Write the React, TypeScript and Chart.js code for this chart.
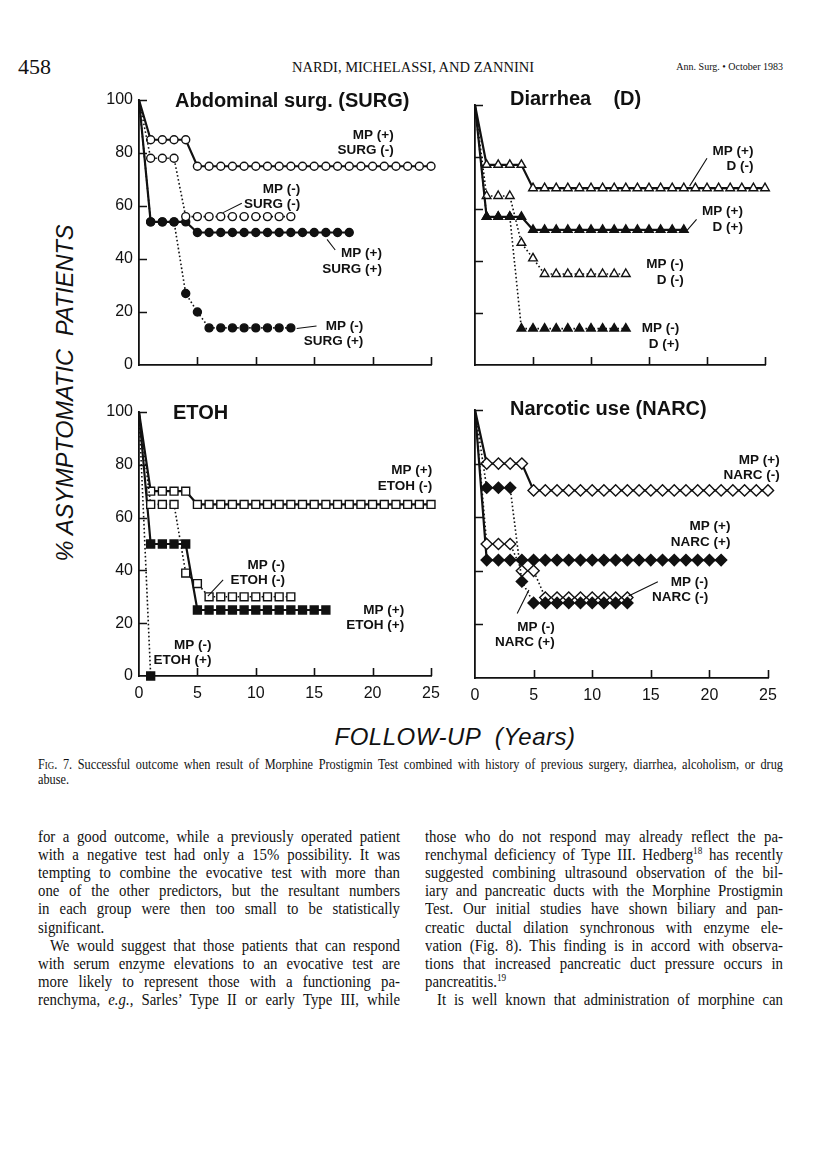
import React, { useEffect, useRef } from "react";
import { Chart, registerables } from "chart.js";

Chart.register(...registerables);

// ---------------- data ----------------
const years = [0, 1, 2, 3, 4, 5, 6, 7, 8, 9, 10, 11, 12, 13, 14, 15, 16, 17, 18, 19, 20, 21, 22, 23, 24, 25];
const xTicks = [0, 5, 10, 15, 20, 25];
const yTicks = [0, 20, 40, 60, 80, 100];

// Abdominal surgery (SURG)
const surgMpPosSurgNeg = [100, 85, 85, 85, 85, 75, 75, 75, 75, 75, 75, 75, 75, 75, 75, 75, 75, 75, 75, 75, 75, 75, 75, 75, 75, 75];
const surgMpNegSurgNeg = [100, 78, 78, 78, 56, 56, 56, 56, 56, 56, 56, 56, 56, 56];
const surgMpPosSurgPos = [100, 54, 54, 54, 54, 50, 50, 50, 50, 50, 50, 50, 50, 50, 50, 50, 50, 50, 50];
const surgMpNegSurgPos = [100, 54, 54, 54, 27, 20, 14, 14, 14, 14, 14, 14, 14, 14];

// Diarrhea (D)
const diarMpPosDNeg = [100, 77, 77, 77, 77, 68, 68, 68, 68, 68, 68, 68, 68, 68, 68, 68, 68, 68, 68, 68, 68, 68, 68, 68, 68, 68];
const diarMpNegDNeg = [100, 65, 65, 65, 47, 41, 35, 35, 35, 35, 35, 35, 35, 35];
const diarMpPosDPos = [100, 57, 57, 57, 57, 52, 52, 52, 52, 52, 52, 52, 52, 52, 52, 52, 52, 52, 52];
const diarMpNegDPos = [100, 57, 57, 57, 14, 14, 14, 14, 14, 14, 14, 14, 14, 14];

// ETOH
const etohMpPosENeg = [100, 70, 70, 70, 70, 65, 65, 65, 65, 65, 65, 65, 65, 65, 65, 65, 65, 65, 65, 65, 65, 65, 65, 65, 65, 65];
const etohMpNegENeg = [100, 65, 65, 65, 39, 35, 30, 30, 30, 30, 30, 30, 30, 30];
const etohMpPosEPos = [100, 50, 50, 50, 50, 25, 25, 25, 25, 25, 25, 25, 25, 25, 25, 25, 25];
const etohMpNegEPos = [100, 0];

// Narcotic use (NARC)
const narcMpPosNNeg = [100, 80, 80, 80, 80, 70, 70, 70, 70, 70, 70, 70, 70, 70, 70, 70, 70, 70, 70, 70, 70, 70, 70, 70, 70, 70];
const narcMpNegNNeg = [100, 50, 50, 50, 40, 40, 30, 30, 30, 30, 30, 30, 30, 30];
const narcMpPosNPos = [100, 44, 44, 44, 44, 44, 44, 44, 44, 44, 44, 44, 44, 44, 44, 44, 44, 44, 44, 44, 44, 44];
const narcMpNegNPos = [100, 71, 71, 71, 36, 28, 28, 28, 28, 28, 28, 28, 28, 28];

// curve labels (data coordinates: right edge x, first line y)
const surgNotes = [
  { x: 21.8, y: 86.8, text: ["MP (+)", "SURG (-)"] },
  { x: 13.8, y: 66.4, text: ["MP (-)", "SURG (-)"] },
  { x: 20.8, y: 42.1, text: ["MP (+)", "SURG (+)"] },
  { x: 19.2, y: 14.7, text: ["MP (-)", "SURG (+)"] },
];
const surgLeaders = [
  [8.8, 61.0, 7.2, 57.5],
  [16.1, 47.4, 16.8, 43.4],
  [13.5, 13.8, 15.2, 14.7],
];
const diarNotes = [
  { x: 24.0, y: 82.3, text: ["MP (+)", "D (-)"] },
  { x: 23.1, y: 59.0, text: ["MP (+)", "D (+)"] },
  { x: 18.0, y: 38.7, text: ["MP (-)", "D (-)"] },
  { x: 17.6, y: 14.1, text: ["MP (-)", "D (+)"] },
];
const diarLeaders = [
  [20.0, 79.5, 18.5, 68.8],
  [19.1, 56.0, 18.3, 51.9],
];
const etohNotes = [
  { x: 25.1, y: 77.8, text: ["MP (+)", "ETOH (-)"] },
  { x: 12.5, y: 42.0, text: ["MP (-)", "ETOH (-)"] },
  { x: 22.7, y: 25.0, text: ["MP (+)", "ETOH (+)"] },
  { x: 6.2, y: 11.7, text: ["MP (-)", "ETOH (+)"] },
];
const etohLeaders = [[7.2, 36.4, 5.9, 30.3]];
const narcNotes = [
  { x: 26.0, y: 81.3, text: ["MP (+)", "NARC (-)"] },
  { x: 21.8, y: 56.5, text: ["MP (+)", "NARC (+)"] },
  { x: 19.9, y: 35.9, text: ["MP (-)", "NARC (-)"] },
  { x: 6.8, y: 19.1, text: ["MP (-)", "NARC (+)"] },
];
const narcLeaders = [
  [15.6, 35.9, 13.1, 30.6],
  [3.6, 24.1, 4.6, 32.8],
];

// ---------------- styles ----------------
const INK = "#111111";
const PAD_L = 45;
const PAD_T = 20;
const PAD_R = 34;
const PAD_B = 32;

function radiusFor(shape: string) {
  if (shape === "circle") return 4;
  if (shape === "triangle") return 5;
  return 5.6;
}

function makeDataset(values: number[], shape: string, filled: boolean, dotted: boolean) {
  return {
    data: values.map((v, i) => ({ x: years[i], y: v })),
    borderColor: INK,
    borderWidth: dotted ? 1.6 : 2.2,
    borderDash: dotted ? [1.6, 2.4] : [],
    pointStyle: shape,
    pointRadius: (c: any) => (c.dataIndex === 0 ? 0 : radiusFor(shape)),
    pointBackgroundColor: filled ? INK : "#ffffff",
    pointBorderColor: INK,
    pointBorderWidth: 1.4,
    tension: 0,
    fill: false,
    clip: false as any,
  };
}

const decorPlugin = {
  id: "decor",
  afterDatasetsDraw(chart: any, _args: any, opts: any) {
    const { ctx, chartArea } = chart;
    const x = chart.scales.x;
    const y = chart.scales.y;
    ctx.save();
    ctx.strokeStyle = INK;
    ctx.lineWidth = 1.6;
    ctx.setLineDash([]);
    ctx.beginPath();
    for (const v of xTicks) {
      if (v === 0) continue;
      const px = Math.round(x.getPixelForValue(v)) + 0.5;
      ctx.moveTo(px, chartArea.bottom);
      ctx.lineTo(px, chartArea.bottom - 8);
    }
    for (const v of yTicks) {
      if (v === 0) continue;
      const py = Math.round(y.getPixelForValue(v)) + 0.5;
      ctx.moveTo(chartArea.left, py);
      ctx.lineTo(chartArea.left + 8, py);
    }
    ctx.stroke();
    ctx.lineWidth = 1.1;
    ctx.beginPath();
    for (const [a, b, c, d] of opts.leaders || []) {
      ctx.moveTo(x.getPixelForValue(a), y.getPixelForValue(b));
      ctx.lineTo(x.getPixelForValue(c), y.getPixelForValue(d));
    }
    ctx.stroke();
    ctx.fillStyle = INK;
    ctx.font = "bold 13.5px 'Liberation Sans', Arial, sans-serif";
    ctx.textAlign = "right";
    ctx.textBaseline = "middle";
    for (const n of opts.notes || []) {
      const px = x.getPixelForValue(n.x);
      const py = y.getPixelForValue(n.y);
      n.text.forEach((s: string, i: number) => ctx.fillText(s, px, py + i * 15.5));
    }
    ctx.restore();
  },
};

type Area = { l: number; r: number; t: number; b: number };

function Panel(props: { area: Area; datasets: any[]; notes: any[]; leaders: number[][]; showX: boolean; showY: boolean }) {
  const { area, datasets, notes, leaders, showX, showY } = props;
  const ref = useRef<HTMLCanvasElement>(null);
  const w = area.r - area.l + PAD_L + PAD_R;
  const h = area.b - area.t + PAD_T + PAD_B;
  useEffect(() => {
    if (!ref.current) return;
    const tickFont = { family: "'Liberation Sans', Arial, sans-serif", size: 16 };
    const chart = new Chart(ref.current, {
      type: "line",
      data: { datasets },
      plugins: [decorPlugin as any],
      options: {
        animation: false,
        responsive: false,
        events: [],
        layout: { padding: { left: 0, top: PAD_T, right: PAD_R, bottom: 0 } },
        plugins: {
          legend: { display: false },
          tooltip: { enabled: false },
          decor: { notes, leaders },
        } as any,
        scales: {
          x: {
            type: "linear",
            min: 0,
            max: 25,
            afterBuildTicks: (s: any) => {
              s.ticks = xTicks.map((v) => ({ value: v }));
            },
            afterFit: (s: any) => {
              s.height = PAD_B;
            },
            ticks: { display: showX, padding: 8, color: INK, font: tickFont, maxRotation: 0, autoSkip: false },
            grid: { display: false, drawTicks: false },
            border: { display: true, color: INK, width: 1.8 },
          },
          y: {
            type: "linear",
            min: 0,
            max: 100,
            afterBuildTicks: (s: any) => {
              s.ticks = yTicks.map((v) => ({ value: v }));
            },
            afterFit: (s: any) => {
              s.width = PAD_L;
            },
            ticks: { display: showY, padding: 6, color: INK, font: tickFont, autoSkip: false },
            grid: { display: false, drawTicks: false },
            border: { display: true, color: INK, width: 1.8 },
          },
        },
      } as any,
    });
    return () => chart.destroy();
  }, []);
  return (
    <canvas
      ref={ref}
      width={w}
      height={h}
      style={{ position: "absolute", left: area.l - PAD_L, top: area.t - PAD_T, width: w, height: h }}
    />
  );
}

const surgSets = [
  makeDataset(surgMpNegSurgPos, "circle", true, true),
  makeDataset(surgMpNegSurgNeg, "circle", false, true),
  makeDataset(surgMpPosSurgPos, "circle", true, false),
  makeDataset(surgMpPosSurgNeg, "circle", false, false),
];
const diarSets = [
  makeDataset(diarMpNegDPos, "triangle", true, true),
  makeDataset(diarMpNegDNeg, "triangle", false, true),
  makeDataset(diarMpPosDPos, "triangle", true, false),
  makeDataset(diarMpPosDNeg, "triangle", false, false),
];
const etohSets = [
  makeDataset(etohMpNegEPos, "rect", true, true),
  makeDataset(etohMpNegENeg, "rect", false, true),
  makeDataset(etohMpPosEPos, "rect", true, false),
  makeDataset(etohMpPosENeg, "rect", false, false),
];
const narcSets = [
  makeDataset(narcMpNegNPos, "rectRot", true, true),
  makeDataset(narcMpNegNNeg, "rectRot", false, true),
  makeDataset(narcMpPosNPos, "rectRot", true, false),
  makeDataset(narcMpPosNNeg, "rectRot", false, false),
];

// ---------------- page text ----------------
const SERIF = "'Liberation Serif', 'Times New Roman', serif";
const SANS = "'Liberation Sans', Arial, sans-serif";

const sup = (s: string) => <sup style={{ fontSize: "0.62em", lineHeight: 0, verticalAlign: "0.55em" }}>{s}</sup>;

const leftLines: { node: React.ReactNode; last?: boolean; indent?: boolean }[] = [
  { node: "for a good outcome, while a previously operated patient" },
  { node: "with a negative test had only a 15% possibility. It was" },
  { node: "tempting to combine the evocative test with more than" },
  { node: "one of the other predictors, but the resultant numbers" },
  { node: "in each group were then too small to be statistically" },
  { node: "significant.", last: true },
  { node: "We would suggest that those patients that can respond", indent: true },
  { node: "with serum enzyme elevations to an evocative test are" },
  { node: "more likely to represent those with a functioning pa-" },
  { node: <>renchyma, <i>e.g.,</i> Sarles’ Type II or early Type III, while</> },
];
const rightLines: { node: React.ReactNode; last?: boolean; indent?: boolean }[] = [
  { node: "those who do not respond may already reflect the pa-" },
  { node: <>renchymal deficiency of Type III. Hedberg{sup("18")} has recently</> },
  { node: "suggested combining ultrasound observation of the bil-" },
  { node: "iary and pancreatic ducts with the Morphine Prostigmin" },
  { node: "Test. Our initial studies have shown biliary and pan-" },
  { node: "creatic ductal dilation synchronous with enzyme ele-" },
  { node: "vation (Fig. 8). This finding is in accord with observa-" },
  { node: "tions that increased pancreatic duct pressure occurs in" },
  { node: <>pancreatitis.{sup("19")}</>, last: true },
  { node: "It is well known that administration of morphine can", indent: true },
];

function TextLine(props: {
  left: number;
  cy: number;
  width: number;
  size: number;
  lh: number;
  sx: number;
  last?: boolean;
  indent?: number;
  children: React.ReactNode;
}) {
  const { left, cy, width, size, lh, sx, last, indent, children } = props;
  return (
    <div
      style={{
        position: "absolute",
        left,
        top: cy - lh / 2,
        width: width / sx,
        height: lh,
        lineHeight: lh + "px",
        fontFamily: SERIF,
        fontSize: size,
        color: INK,
        textAlign: "justify",
        textAlignLast: last ? "left" : "justify",
        textIndent: (indent || 0) / sx,
        transform: `scaleX(${sx})`,
        transformOrigin: "0 0",
        overflow: "visible",
      } as React.CSSProperties}
    >
      {children}
    </div>
  );
}

function Abs(props: { left: number; cy: number; style: React.CSSProperties; children: React.ReactNode }) {
  const fs = (props.style.fontSize as number) || 16;
  return (
    <div
      style={{
        position: "absolute",
        left: props.left,
        top: props.cy - fs * 0.6,
        height: fs * 1.2,
        lineHeight: fs * 1.2 + "px",
        whiteSpace: "pre",
        color: INK,
        ...props.style,
      }}
    >
      {props.children}
    </div>
  );
}

export default function App() {
  const titleStyle: React.CSSProperties = { fontFamily: SANS, fontWeight: "bold", fontSize: 20 };
  return (
    <div style={{ position: "absolute", left: 0, top: 0, width: 816, height: 1149, background: "#fff", overflow: "hidden" }}>
      {/* header */}
      <Abs left={18} cy={67} style={{ fontFamily: SERIF, fontSize: 22 }}>458</Abs>
      <div style={{ position: "absolute", left: 200, width: 426, top: 58, lineHeight: "18px", textAlign: "center", fontFamily: SERIF, fontSize: 14.5, color: INK }}>
        NARDI, MICHELASSI, AND ZANNINI
      </div>
      <div style={{ position: "absolute", right: 816 - 783, top: 60, lineHeight: "14px", fontFamily: SERIF, fontSize: 10, color: INK, whiteSpace: "pre" }}>
        Ann. Surg. • October 1983
      </div>

      {/* charts */}
      <Panel area={{ l: 139, r: 431, t: 100, b: 365 }} datasets={surgSets} notes={surgNotes} leaders={surgLeaders} showX={false} showY={true} />
      <Panel area={{ l: 475, r: 765, t: 105, b: 365 }} datasets={diarSets} notes={diarNotes} leaders={diarLeaders} showX={false} showY={false} />
      <Panel area={{ l: 139, r: 431, t: 412, b: 676 }} datasets={etohSets} notes={etohNotes} leaders={etohLeaders} showX={true} showY={true} />
      <Panel area={{ l: 475, r: 768, t: 410, b: 678 }} datasets={narcSets} notes={narcNotes} leaders={narcLeaders} showX={true} showY={false} />

      {/* panel titles */}
      <Abs left={175} cy={100} style={titleStyle}>Abdominal surg. (SURG)</Abs>
      <Abs left={510} cy={98} style={titleStyle}>{"Diarrhea    (D)"}</Abs>
      <Abs left={173} cy={412} style={titleStyle}>ETOH</Abs>
      <Abs left={510} cy={408} style={titleStyle}>Narcotic use (NARC)</Abs>

      {/* axis titles */}
      <div
        style={{
          position: "absolute",
          left: 65,
          top: 393,
          transform: "translate(-50%, -50%) rotate(-90deg)",
          fontFamily: SANS,
          fontStyle: "italic",
          fontSize: 23.5,
          whiteSpace: "pre",
          color: INK,
          lineHeight: "28px",
        }}
      >
        {"% ASYMPTOMATIC  PATIENTS"}
      </div>
      <div
        style={{
          position: "absolute",
          left: 455,
          top: 737,
          transform: "translate(-50%, -50%)",
          fontFamily: SANS,
          fontStyle: "italic",
          fontSize: 24,
          letterSpacing: 0.5,
          whiteSpace: "pre",
          color: INK,
          lineHeight: "30px",
        }}
      >
        {"FOLLOW-UP  (Years)"}
      </div>

      {/* caption */}
      <TextLine left={38} cy={764} width={745} size={13.8} lh={15} sx={0.89}>
        <span style={{ fontVariant: "small-caps" }}>Fig</span>. 7. Successful outcome when result of Morphine Prostigmin Test combined with history of previous surgery, diarrhea, alcoholism, or drug
      </TextLine>
      <TextLine left={38} cy={779} width={745} size={13.8} lh={15} sx={0.89} last>
        abuse.
      </TextLine>

      {/* body text */}
      {leftLines.map((ln, i) => (
        <TextLine key={"l" + i} left={38} cy={837 + i * 18.1} width={362} size={16.3} lh={18} sx={0.91} last={ln.last} indent={ln.indent ? 12 : 0}>
          {ln.node}
        </TextLine>
      ))}
      {rightLines.map((ln, i) => (
        <TextLine key={"r" + i} left={425} cy={837 + i * 18.1} width={358} size={16.3} lh={18} sx={0.91} last={ln.last} indent={ln.indent ? 12 : 0}>
          {ln.node}
        </TextLine>
      ))}
    </div>
  );
}
